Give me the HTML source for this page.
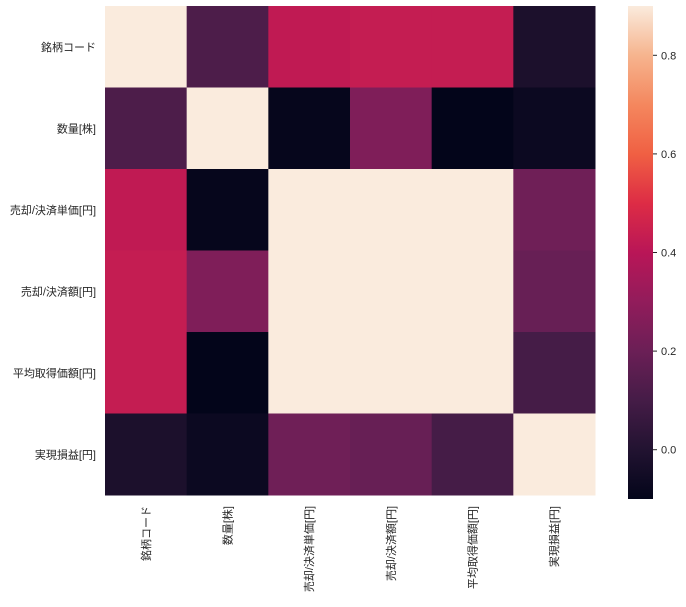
<!DOCTYPE html>
<html><head><meta charset="utf-8">
<style>
html,body{margin:0;padding:0;background:#fff;}
body{width:686px;height:602px;overflow:hidden;font-family:"Liberation Sans","Noto Sans CJK JP",sans-serif;}
text{font-family:"Liberation Sans","Noto Sans CJK JP",sans-serif;fill:#262626;}
</style></head><body>
<svg id="chart" width="686" height="602" xmlns="http://www.w3.org/2000/svg"></svg>
<script>
const labels = ["銘柄コード","数量[株]","売却/決済単価[円]","売却/決済額[円]","平均取得価額[円]","実現損益[円]"];
const row0 = [1.0, 0.12, 0.42, 0.43, 0.43, -0.02];
const row1 = [0.12, 1.0, -0.09, 0.25, -0.10, -0.07];
const row2 = [0.42, -0.09, 1.0, 1.0, 1.0, 0.21];
const row3 = [0.43, 0.25, 1.0, 1.0, 1.0, 0.19];
const row4 = [0.43, -0.10, 1.0, 1.0, 1.0, 0.10];
const row5 = [-0.02, -0.07, 0.21, 0.19, 0.10, 1.0];
const cbTicks = [0.0, 0.2, 0.4, 0.6, 0.8];
const vmin = -0.1, vmax = 0.9;

const rows = [row0,row1,row2,row3,row4,row5];
const NS = "http://www.w3.org/2000/svg";
const svg = document.getElementById("chart");
const X0 = 105, X1 = 595, Y0 = 6, Y1 = 495;
const n = labels.length, cw = (X1-X0)/n, ch = (Y1-Y0)/n;
const xPos = i => X0 + i*cw;
const yPos = i => Y0 + i*ch;
const stops = ["#03051a","#221331","#451c47","#6b1f56","#921c5b","#b91657","#dd2c45","#f06043","#f4875e","#f6b48e","#faebdd"];
function hex(h){return [1,3,5].map(k=>parseInt(h.substr(k,2),16));}
function color(v){
  let t = (v - vmin)/(vmax - vmin); t = Math.max(0, Math.min(1, t));
  const p = t*(stops.length-1), i = Math.min(Math.floor(p), stops.length-2), f = p - i;
  const a = hex(stops[i]), b = hex(stops[i+1]);
  return "rgb(" + a.map((c,k)=>Math.round(c+(b[k]-c)*f)).join(",") + ")";
}
function el(tag, attrs){const e=document.createElementNS(NS,tag);for(const k in attrs)e.setAttribute(k,attrs[k]);svg.appendChild(e);return e;}

rows.forEach((r,i)=>r.forEach((v,j)=>{
  const c = el("rect",{x:xPos(j),y:yPos(i),width:cw+0.5,height:ch+0.5,fill:color(v)});
  
  
}));
labels.forEach((l,i)=>{
  const t = el("text",{x:96,y:yPos(i)+ch/2+4,"text-anchor":"end","font-size":"11"});
  t.textContent = l;
  
  
  const cx = xPos(i)+cw/2;
  const u = el("text",{x:0,y:0,"text-anchor":"end","font-size":"11",transform:"translate("+(cx+4)+",506) rotate(-90)"});
  u.textContent = l;
  
  
});
// colorbar
const CB0 = 6, CB1 = 499, CX = 628, CW = 25;
const cbY = v => CB1 - (v - vmin)/(vmax - vmin)*(CB1 - CB0);
const defs = el("defs",{});
const g = document.createElementNS(NS,"linearGradient");
g.setAttribute("id","cbg"); g.setAttribute("x1","0"); g.setAttribute("y1","1"); g.setAttribute("x2","0"); g.setAttribute("y2","0");
stops.forEach((s,i)=>{const st=document.createElementNS(NS,"stop");st.setAttribute("offset",i/(stops.length-1));st.setAttribute("stop-color",s);g.appendChild(st);});
defs.appendChild(g);
const cb = el("rect",{x:CX,y:CB0,width:CW,height:CB1-CB0,fill:"url(#cbg)"});


cbTicks.forEach(v=>{
  const y = cbY(v);
  const tk = el("line",{x1:CX+CW,x2:CX+CW+4,y1:y,y2:y,stroke:"#262626","stroke-width":"1"});
  
  
  const t = el("text",{x:CX+CW+8,y:y+4,"font-size":"11"});
  t.textContent = v.toFixed(1);
  
  
});
</script>
</body></html>
